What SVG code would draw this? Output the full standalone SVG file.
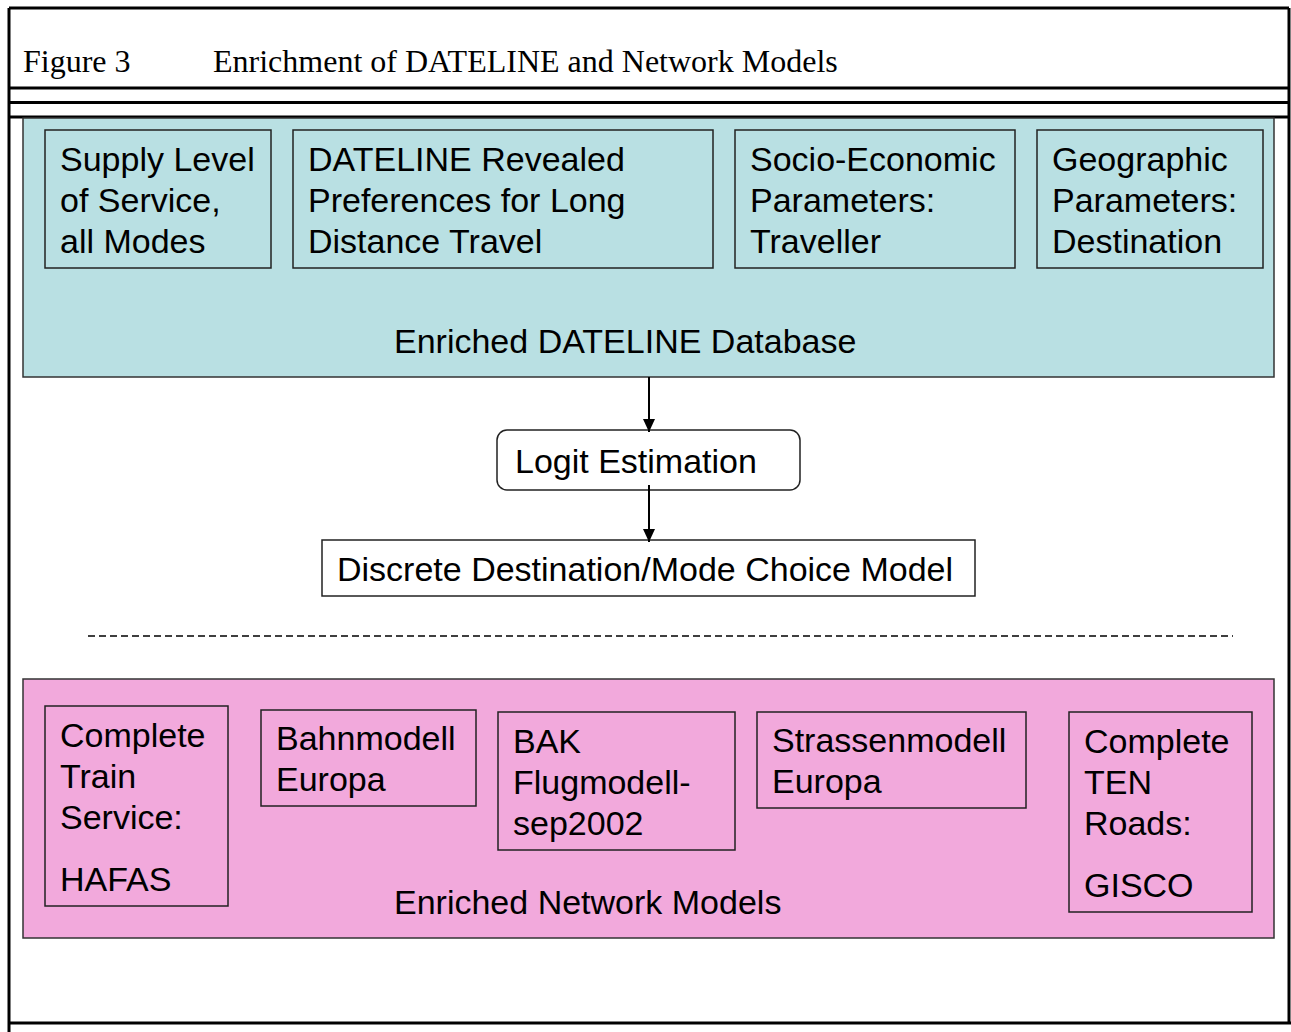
<svg xmlns="http://www.w3.org/2000/svg" width="1291" height="1032" viewBox="0 0 1291 1032">
<defs>
<style>
.frame{fill:none;stroke:#000;stroke-width:3}
.panel{stroke:#333;stroke-width:1.5}
.blue{fill:#B9E0E3}
.pink{fill:#F2A9DC}
.box{stroke:#222;stroke-width:1.5}
.wbox{fill:#fff;stroke:#222;stroke-width:1.5}
.t{font-family:"Liberation Sans",Arial,sans-serif;font-size:34px;fill:#000}
.title{font-family:"Liberation Serif","Times New Roman",serif;font-size:32px;fill:#000}
.conn{stroke:#000;stroke-width:2;fill:none}
</style>
<marker id="arr" viewBox="0 0 10 10" refX="10" refY="5" markerWidth="13" markerHeight="12" markerUnits="userSpaceOnUse" orient="auto" preserveAspectRatio="none">
<path d="M0,0 L10,5 L0,10 z" fill="#000"/>
</marker>
</defs>
<rect width="1291" height="1032" fill="#fff"/>
<g id="frame">
<line class="frame" x1="9" y1="8" x2="9" y2="1032"/>
<line class="frame" x1="1289" y1="8" x2="1289" y2="1024"/>
<line class="frame" x1="9" y1="8" x2="1289" y2="8"/>
<line class="frame" x1="9" y1="88" x2="1289" y2="88"/>
<line class="frame" x1="9" y1="102.5" x2="1289" y2="102.5"/>
<line class="frame" x1="9" y1="117" x2="1289" y2="117"/>
<line class="frame" x1="9" y1="1023" x2="1291" y2="1023"/>
<text class="title" x="23" y="72">Figure 3</text>
<text class="title" x="213" y="72">Enrichment of DATELINE and Network Models</text>
</g>
<g id="enriched-dateline">
<rect class="panel blue" x="23" y="118" width="1251" height="259"/>
<text class="t" x="394" y="353">Enriched DATELINE Database</text>
</g>
<g id="supply">
<rect class="box blue" x="45" y="130" width="226" height="138"/>
<text class="t" x="60" y="171">Supply Level</text>
<text class="t" x="60" y="212">of Service,</text>
<text class="t" x="60" y="253">all Modes</text>
</g>
<g id="dateline-rp">
<rect class="box blue" x="293" y="130" width="420" height="138"/>
<text class="t" x="308" y="171">DATELINE Revealed</text>
<text class="t" x="308" y="212">Preferences for Long</text>
<text class="t" x="308" y="253">Distance Travel</text>
</g>
<g id="socio">
<rect class="box blue" x="735" y="130" width="280" height="138"/>
<text class="t" x="750" y="171">Socio-Economic</text>
<text class="t" x="750" y="212">Parameters:</text>
<text class="t" x="750" y="253">Traveller</text>
</g>
<g id="geo">
<rect class="box blue" x="1037" y="130" width="226" height="138"/>
<text class="t" x="1052" y="171">Geographic</text>
<text class="t" x="1052" y="212">Parameters:</text>
<text class="t" x="1052" y="253">Destination</text>
</g>
<g id="logit">
<rect class="wbox" x="497" y="430" width="303" height="60" rx="10"/>
<text class="t" x="515" y="473">Logit Estimation</text>
</g>
<g id="discrete">
<rect class="wbox" x="322" y="540" width="653" height="56"/>
<text class="t" x="337" y="581">Discrete Destination/Mode Choice Model</text>
</g>
<g id="connectors">
<line class="conn" x1="649" y1="377" x2="649" y2="432" marker-end="url(#arr)"/>
<line class="conn" x1="649" y1="485" x2="649" y2="542" marker-end="url(#arr)"/>
<line x1="88" y1="636" x2="1233" y2="636" stroke="#000" stroke-width="1.5" stroke-dasharray="7,4"/>
</g>
<g id="enriched-network">
<rect class="panel pink" x="23" y="679" width="1251" height="259"/>
<text class="t" x="394" y="914">Enriched Network Models</text>
</g>
<g id="hafas">
<rect class="box pink" x="45" y="706" width="183" height="200"/>
<text class="t" x="60" y="747">Complete</text>
<text class="t" x="60" y="788">Train</text>
<text class="t" x="60" y="829">Service:</text>
<text class="t" x="60" y="891">HAFAS</text>
</g>
<g id="bahnmodell">
<rect class="box pink" x="261" y="710" width="215" height="96"/>
<text class="t" x="276" y="750">Bahnmodell</text>
<text class="t" x="276" y="791">Europa</text>
</g>
<g id="bak">
<rect class="box pink" x="498" y="712" width="237" height="138"/>
<text class="t" x="513" y="753">BAK</text>
<text class="t" x="513" y="794">Flugmodell-</text>
<text class="t" x="513" y="835">sep2002</text>
</g>
<g id="strassen">
<rect class="box pink" x="757" y="712" width="269" height="96"/>
<text class="t" x="772" y="752">Strassenmodell</text>
<text class="t" x="772" y="793">Europa</text>
</g>
<g id="gisco">
<rect class="box pink" x="1069" y="712" width="183" height="200"/>
<text class="t" x="1084" y="753">Complete</text>
<text class="t" x="1084" y="794">TEN</text>
<text class="t" x="1084" y="835">Roads:</text>
<text class="t" x="1084" y="897">GISCO</text>
</g>
</svg>
